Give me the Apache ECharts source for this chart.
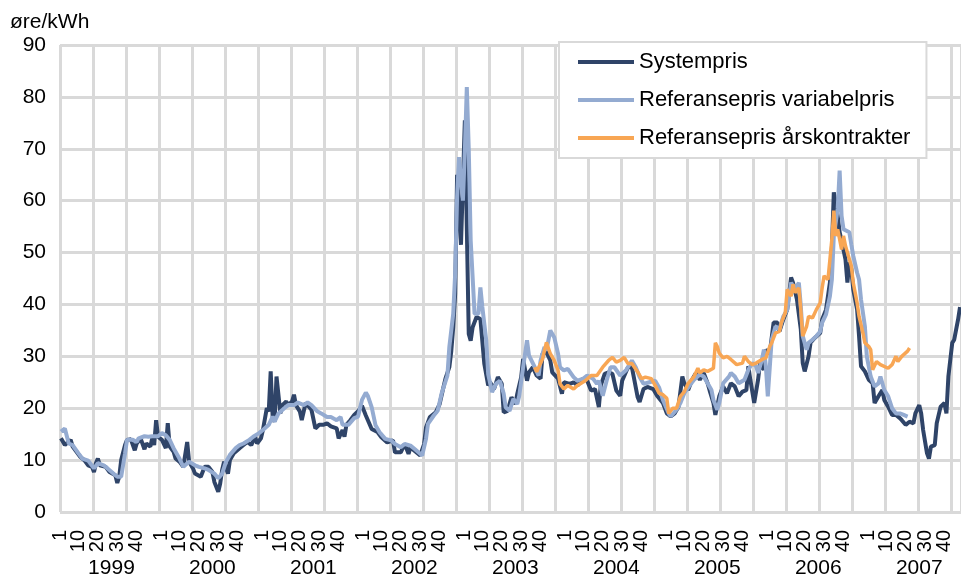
<!DOCTYPE html>
<html>
<head>
<meta charset="utf-8">
<script src="https://cdn.jsdelivr.net/npm/echarts@6/dist/echarts.min.js"></script>
<style>
  html, body { margin: 0; padding: 0; background: #fff; }
  #chart { width: 961px; height: 579px; }
</style>
</head>
<body>
<div id="chart"></div>
<script>
// år og uker på x-aksen (2007 går til uke 48)
var years = [1999, 2000, 2001, 2002, 2003, 2004, 2005, 2006, 2007];
var weeksInYear = [52, 52, 52, 52, 52, 52, 52, 52, 48];
var weekTicksA = [1, 20, 40];   // ukeetiketter, delt på to akser så de ikke skjules
var weekTicksB = [10, 30];
var yearLabelWeek = 27;

// [løpende uke fra 1999 uke 1 (0 = første), øre/kWh]
var systempris = [
  [0,14.2],[2,12.9],[5,13.9],[6,12.6],[8,11.6],[10,10.6],[12,10],[14,9],[16,8.7],[17,7.7],[18,9.4],[19,10.3],[20,9],
  [23,8.7],[25,7.7],[28,7.1],[29,5.6],[30,6.8],[31,10],[33,12.9],[34,13.9],[36,14],[38,11.9],[39,13.2],[41,14.2],
  [43,12.1],[44,13.2],[46,12.6],[47,14.2],[48,12.9],[49,17.7],[50,14.5],[52,13.9],[54,12.3],[55,17.1],[56,12.6],
  [58,11.6],[59,10.3],[61,9.7],[63,8.7],[65,13.5],[66,9.7],[68,8.4],[69,7.4],[70,7.7],[72,6.8],[74,8.7],[76,8.7],
  [78,7.7],[79,5.8],[81,3.9],[82,5.5],[83,8.1],[84,9.7],[86,7.4],[87,10],[89,11.3],[92,12.3],[94,12.9],[96,13.5],
  [98,12.9],[100,14.5],[101,13.2],[103,14.2],[104,15.8],[106,20],[107,19.4],[108,27.1],[109,18.4],[110,17.4],
  [111,26.1],[113,19],[114,20.6],[116,21.3],[117,20.6],[119,21.3],[120,22.6],[121,20.6],[123,19.4],[124,17.7],
  [126,21],[127,20.6],[129,19.7],[131,16.1],[133,16.8],[135,16.8],[137,17.1],[139,16.5],[142,16.1],[143,14.2],
  [145,15.8],[146,14.5],[147,16.8],[149,17.7],[151,18.7],[153,19.4],[155,20.5],[157,18.6],[158,18.6],[160,16],
  [161,16.3],[163,15.4],[165,14.4],[168,13.4],[171,13.8],[172,11.5],[175,11.5],[177,13.1],[179,11.2],[180,12.5],
  [182,11.8],[185,10.9],[187,13.1],[188,16.3],[190,18.3],[193,19.2],[195,20.8],[197,24.1],[198,25.7],[200,27.9],
  [201,31],[202,35.6],[203,42.1],[204,65],[206,51.5],[208,75.5],[210,34.3],[211,33],[212,35.6],[214,37.6],
  [216,37.2],[218,28.6],[220,24.4],[221,25],[223,23.7],[225,26],[227,24.7],[228,19.2],[230,19.5],[232,22.1],
  [234,20.8],[235,22.8],[237,26],[238,29.5],[240,25.3],[241,26.9],[243,27.9],[245,26.3],[247,25.7],[248,30.5],
  [250,30.8],[252,29.2],[253,26.9],[256,25.7],[258,22.8],[259,25],[262,24.7],[264,25],[266,24.4],[269,25.7],
  [271,25.3],[273,23.4],[275,23.7],[277,20.2],[278,24.4],[280,26.6],[282,26.9],[284,26.6],[286,23.4],[288,22.4],
  [289,25.3],[292,27.9],[294,27.9],[295,26],[297,22.1],[298,21.2],[300,23.7],[302,24.1],[305,23.7],[307,22.4],
  [310,21],[312,19],[314,18.4],[316,19],[318,20.3],[320,26.1],[321,24.8],[323,23.5],[325,25.5],[327,26.8],
  [329,25.5],[331,26.8],[333,24.8],[334,23.5],[336,21],[337,18.7],[339,22.3],[341,24.2],[343,22.9],[345,24.8],
  [347,24.2],[349,22.3],[351,23.2],[353,23.5],[354,28.1],[355,25.5],[357,21],[359,25.5],[360,28.7],[362,27.4],
  [363,31.3],[365,30.6],[367,36.5],[369,36.5],[370,34.8],[372,37.1],[374,39],[376,45.2],[377,44.2],[379,41],
  [381,35.2],[382,28.7],[383,27.1],[385,30],[386,32.6],[388,33.5],[391,34.5],[392,37.1],[394,39],[396,44.2],
  [397,50.6],[398,61.6],[400,57.1],[401,53.9],[402,52.3],[404,48.7],[405,44.2],[406,48.1],[407,46.8],[408,42.9],
  [410,39],[411,33.9],[412,28.1],[414,27.1],[416,25.5],[418,24.8],[419,21],[421,22.3],[422,22.6],[423,23.5],
  [424,21.6],[426,20.3],[428,18.7],[430,18.7],[432,18.1],[433,17.7],[435,16.8],[437,17.4],[439,17.1],[440,19],
  [442,20.6],[443,19],[444,15.8],[446,11.3],[447,10.3],[448,12.6],[450,12.9],[451,17.1],[453,20.3],[455,21],
  [456,19],[457,26.1],[459,32.6],[460,33.2],[462,37.1],[463,39.5]
];

var variabelpris = [
  [0,15.5],[2,16.1],[4,13.2],[6,12.9],[9,11.3],[11,10.3],[14,9.9],[17,8.4],[19,9.4],[22,9],[24,8.4],[27,7.4],
  [29,6.8],[31,6.8],[33,11.3],[34,13.9],[37,13.9],[39,13.5],[40,14.2],[43,14.6],[45,14.5],[47,14.6],[50,14.6],
  [52,15.2],[54,14.8],[56,13.9],[58,12.3],[61,10.3],[63,8.7],[66,9.7],[69,9],[71,8.7],[74,8.4],[76,8.1],[79,7.4],
  [81,6.5],[83,7.4],[85,9.7],[87,11],[90,12.3],[92,12.9],[94,13.2],[97,13.9],[99,14.5],[102,15.2],[104,15.8],
  [107,16.8],[109,18.4],[110,17.4],[112,19],[115,20],[117,20.6],[120,20.6],[122,21.1],[125,20.6],[127,21.1],
  [129,20.6],[132,19.4],[134,19],[137,18.3],[139,18.3],[142,17.7],[144,18.3],[145,16.8],[148,16.8],[151,18.1],
  [153,18.4],[155,21.6],[157,23],[158,22.4],[160,20.2],[162,16.7],[164,15.4],[167,14.1],[170,13.8],[172,13.1],
  [175,12.5],[177,13.1],[180,12.8],[182,12.2],[186,10.9],[188,14.1],[189,17],[192,18.6],[194,19.5],[196,22.8],
  [199,26.3],[200,31.8],[202,38.2],[203,45.9],[204,60.7],[205,68.4],[207,60],[208,69.7],[209,81.9],[210,70],
  [211,52.3],[213,38.2],[215,38.2],[216,43.3],[217,39.5],[219,33.1],[220,26.6],[222,23.1],[224,24.7],[226,25.3],
  [228,22.8],[229,20.2],[231,19.5],[233,21.8],[235,20.8],[236,22.4],[238,27.9],[240,33.1],[241,30.2],[244,27.9],
  [246,26.3],[247,29.2],[249,31.8],[250,31.1],[252,35],[254,33.7],[256,30.5],[257,27.9],[259,27.3],[261,27.6],
  [264,26],[266,25.3],[269,25.7],[271,26.3],[274,25.7],[276,24.7],[277,25.3],[279,22.4],[281,25.3],[283,27.9],
  [285,27.9],[288,26.3],[289,26],[291,27.3],[294,29.2],[296,27.9],[298,26],[300,24.7],[303,25],[306,25.3],
  [308,24],[310,21.6],[313,19],[314,18.4],[317,19.7],[319,21],[321,22.9],[324,24.5],[326,25.5],[329,26.5],
  [331,26.1],[333,24.8],[335,23.5],[336,21.6],[338,19.7],[339,21],[341,24.8],[344,26.1],[345,26.8],[347,26.1],
  [349,24.8],[352,25.5],[354,27.4],[356,28.7],[358,28.1],[359,26.8],[361,29.4],[362,31.3],[363,28.1],[364,22.3],
  [366,33.2],[368,35.8],[370,35.2],[372,37.7],[374,39],[376,44.2],[377,43.5],[378,42.9],[380,44.2],[381,39.7],
  [382,33.9],[384,31.3],[385,32.6],[387,33.2],[389,33.9],[391,34.8],[392,36.5],[394,38.1],[396,41.6],[397,44.8],
  [398,53.2],[400,58.4],[401,65.8],[402,57.1],[403,54.5],[404,54.5],[406,53.9],[407,51.6],[408,49.4],[410,46.1],
  [411,44.8],[412,41],[414,35.8],[415,30],[417,26.1],[419,24.2],[421,24.8],[422,26.1],[424,23.5],[426,22.3],
  [428,20],[430,19],[432,19],[434,18.7],[436,18.4]
];

var aarskontrakter = [
  [244,27.9],[245,27],[248,29.5],[250,32.7],[252,30.5],[254,29.2],[256,27.3],[257,24.7],[259,23.7],[261,24.4],
  [264,23.7],[266,24.4],[270,25.3],[273,26.3],[276,26.3],[279,27.9],[282,29.2],[284,29.8],[286,28.9],[288,29.2],
  [290,29.8],[292,28.6],[294,28.6],[297,27],[299,25.7],[301,26],[304,25.7],[306,24.4],[308,22.9],[310,22.6],
  [312,21.9],[313,19],[315,20],[317,20],[319,22.3],[321,23.2],[323,24.8],[326,26.1],[328,27.7],[329,26.8],
  [331,27.4],[333,27.1],[336,27.7],[337,32.6],[338,31.9],[339,30.6],[340,30.6],[341,29.7],[343,30],[345,29.4],
  [346,29.7],[348,28.4],[351,28.7],[352,30],[354,29],[356,28.4],[358,28.7],[361,29.4],[363,29.7],[365,31.9],
  [366,32.6],[368,34.5],[370,34.8],[371,36.5],[373,38.4],[374,42.9],[376,41.6],[377,43.9],[378,42.3],[380,43.2],
  [381,39],[382,33.9],[384,35.8],[385,37.7],[387,37.4],[389,39],[391,40.3],[392,43.2],[393,45.5],[395,44.8],
  [396,48.7],[397,52.6],[398,58.1],[399,53.2],[400,54.5],[402,50.6],[403,53.2],[404,51.3],[406,48.7],[407,47.4],
  [408,44.2],[410,40.3],[411,37.7],[413,34.5],[414,32.6],[416,31.9],[417,31.3],[418,27.4],[420,29],[422,28.4],
  [423,28.4],[426,27.7],[428,28.4],[430,30],[431,29],[433,30],[436,31],[437,31.6]
];

// kategorier "år-uke"
var categories = [];
years.forEach(function (y, i) {
  for (var w = 1; w <= weeksInYear[i]; w++) categories.push(y + '-' + w);
});

var font = '"Liberation Sans", Arial, sans-serif';
var gridColor = '#d9d9d9';

function weekOf(v) { return +v.split('-')[1]; }

// ukeakse uten linjer, bare etiketter
function weekAxis(ticks) {
  return {
    type: 'category',
    data: categories,
    position: 'bottom',
    boundaryGap: true,
    axisLine: { show: false },
    axisTick: { show: false },
    splitLine: { show: false },
    axisLabel: {
      interval: function (i, v) { return ticks.indexOf(weekOf(v)) >= 0; },
      formatter: function (v) { return weekOf(v); },
      rotate: 90,
      margin: 18,
      fontFamily: font,
      fontSize: 20,
      color: '#000'
    }
  };
}

var myChart = echarts.init(document.getElementById('chart'));
myChart.setOption({
  animation: false,
  title: {
    text: 'øre/kWh',
    left: 10,
    top: 12,
    padding: 0,
    textStyle: { fontFamily: font, fontSize: 21, fontWeight: 'normal', color: '#000' }
  },
  legend: {
    orient: 'vertical',
    left: 559,
    top: 42,
    padding: [8, 16, 8, 19],
    backgroundColor: '#fff',
    borderColor: gridColor,
    borderWidth: 2,
    icon: 'rect',
    itemWidth: 56,
    itemHeight: 4,
    itemGap: 14,
    textStyle: { fontFamily: font, fontSize: 22, color: '#000', lineHeight: 24 },
    data: ['Systempris', 'Referansepris variabelpris', 'Referansepris årskontrakter']
  },
  grid: { left: 60, right: 0, top: 45, bottom: 67 },
  xAxis: [{
    // hovedakse: data og loddrette rutenettlinjer
    type: 'category',
    data: categories,
    boundaryGap: true,
    axisLine: { show: false },
    axisTick: { show: false },
    axisLabel: { show: false },
    splitLine: {
      show: true,
      interval: function (i) { return i % 17 === 0; },
      lineStyle: { color: gridColor, width: 3 }
    }
  },
  weekAxis(weekTicksA),
  weekAxis(weekTicksB),
  {
    // årstall under ukene
    type: 'category',
    data: categories,
    position: 'bottom',
    boundaryGap: true,
    axisLine: { show: false },
    axisTick: { show: false },
    splitLine: { show: false },
    axisLabel: {
      interval: function (i, v) { return weekOf(v) === yearLabelWeek; },
      formatter: function (v) { return v.split('-')[0]; },
      margin: 46,
      fontFamily: font,
      fontSize: 21,
      color: '#000'
    }
  }],
  yAxis: {
    type: 'value',
    min: 0,
    max: 90,
    interval: 10,
    axisLine: { show: false },
    axisTick: { show: false },
    axisLabel: { fontFamily: font, fontSize: 21, color: '#000', margin: 14 },
    splitLine: { lineStyle: { color: gridColor, width: 3 } }
  },
  series: [{
    name: 'Systempris',
    type: 'line',
    data: systempris,
    showSymbol: false,
    color: '#2f4468',
    lineStyle: { width: 4, color: '#2f4468' }
  }, {
    name: 'Referansepris variabelpris',
    type: 'line',
    data: variabelpris,
    showSymbol: false,
    color: '#94abd1',
    lineStyle: { width: 4, color: '#94abd1' }
  }, {
    name: 'Referansepris årskontrakter',
    type: 'line',
    data: aarskontrakter,
    showSymbol: false,
    color: '#f8a654',
    lineStyle: { width: 3.5, color: '#f8a654' }
  }]
});
window.onresize = myChart.resize;
</script>
</body>
</html>
